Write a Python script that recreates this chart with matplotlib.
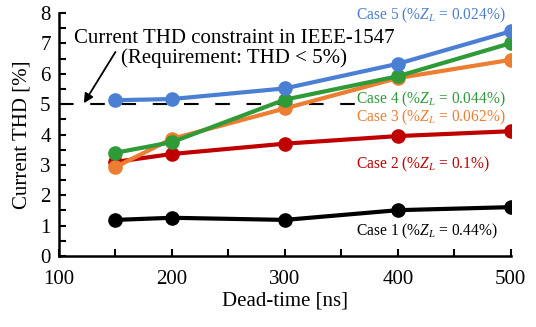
import matplotlib
matplotlib.use('Agg')
import matplotlib.pyplot as plt
from matplotlib.ticker import MultipleLocator

plt.rcParams['font.family'] = 'Liberation Serif'
plt.rcParams['mathtext.fontset'] = 'custom'
plt.rcParams['mathtext.rm'] = 'Liberation Serif'
plt.rcParams['mathtext.it'] = 'Liberation Serif:italic'

dead_time = [150, 200, 300, 400, 500]
case1 = [1.19, 1.26, 1.19, 1.51, 1.61]
case2 = [3.10, 3.36, 3.70, 3.95, 4.11]
case3 = [2.93, 3.86, 4.86, 5.86, 6.46]
case4 = [3.40, 3.75, 5.15, 5.92, 7.01]
case5 = [5.13, 5.17, 5.52, 6.33, 7.40]

labels = ['Case 1 (%$Z_L$ = 0.44%)', 'Case 2 (%$Z_L$ = 0.1%)',
          'Case 3 (%$Z_L$ = 0.062%)', 'Case 4 (%$Z_L$ = 0.044%)',
          'Case 5 (%$Z_L$ = 0.024%)']
colors = ['black', '#C00000', '#ED7D31', '#2E9A38', '#4A7FD3']
label_y = [0.80, 3.03, 4.57, 5.17, 7.93]
thd_limit = 5

fig = plt.figure(figsize=(5.36, 3.27), dpi=100)
ax = fig.add_axes([0.110, 0.217, 0.843, 0.743])

# draw order so that blue sits on top and orange under red/green
series = [case1, case2, case3, case4, case5]
for i in [0, 2, 1, 3, 4]:
    ax.plot(dead_time, series[i], '-o', color=colors[i], lw=3, ms=9.5, zorder=3 + i)

ax.plot([100, 363], [thd_limit, thd_limit], '--', color='black', lw=1.5,
        dashes=(7, 8), zorder=2)

for lab, c, yy in zip(labels, colors, label_y):
    ax.text(363, yy, lab, color=c, fontsize=11.2, ha='left', va='center', zorder=10)

ax.text(255, 6.84, 'Current THD constraint in IEEE-1547\n(Requirement: THD < 5%)',
        ha='center', va='center', fontsize=15, linespacing=1.05)
ax.annotate('', xy=(122, 5.03), xytext=(150, 6.72),
            arrowprops=dict(arrowstyle='-|>', color='black', lw=1.3,
                            mutation_scale=14, shrinkA=0, shrinkB=0))

ax.set_xlim(100, 500)
ax.set_ylim(0, 8)
ax.xaxis.set_major_locator(MultipleLocator(100))
ax.xaxis.set_minor_locator(MultipleLocator(50))
ax.yaxis.set_major_locator(MultipleLocator(1))
ax.yaxis.set_minor_locator(MultipleLocator(0.5))
ax.tick_params(which='both', direction='in', length=5, width=1.5, labelsize=15)
ax.tick_params(axis='x', pad=10)
ax.tick_params(axis='y', pad=6)

for s in ['top', 'right']:
    ax.spines[s].set_visible(False)
for s in ['left', 'bottom']:
    ax.spines[s].set_linewidth(1.8)

ax.set_xlabel('Dead-time [ns]', fontsize=15, labelpad=2)
ax.set_ylabel('Current THD [%]', fontsize=15, labelpad=6)

fig.savefig('out.png', dpi=100)
